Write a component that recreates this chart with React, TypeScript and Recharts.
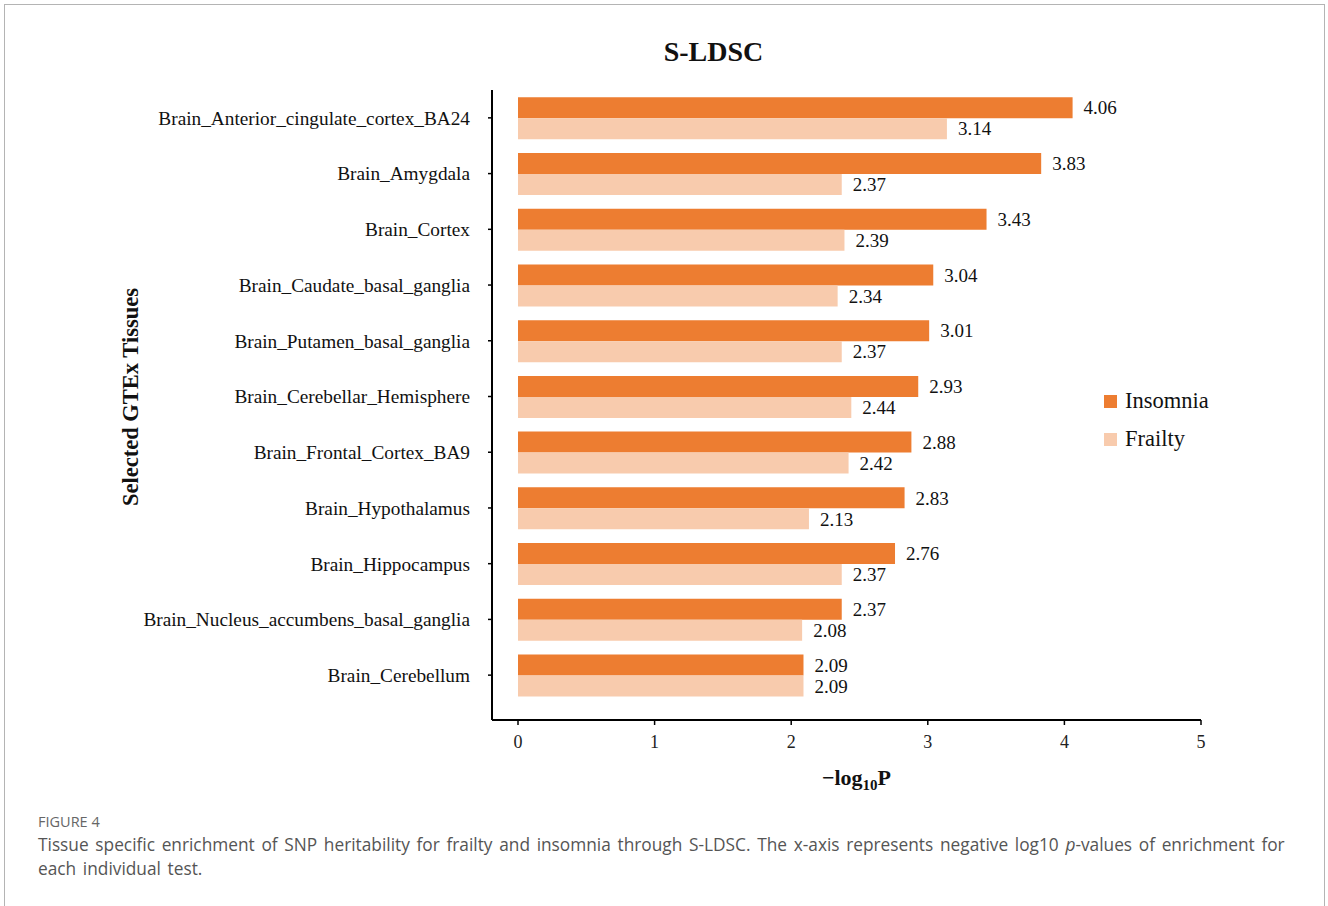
import React from 'react';
import { BarChart, Bar, XAxis, YAxis, LabelList, Label } from 'recharts';

// S-LDSC enrichment per GTEx brain tissue (-log10 P)
const tissues = [
  'Brain_Anterior_cingulate_cortex_BA24',
  'Brain_Amygdala',
  'Brain_Cortex',
  'Brain_Caudate_basal_ganglia',
  'Brain_Putamen_basal_ganglia',
  'Brain_Cerebellar_Hemisphere',
  'Brain_Frontal_Cortex_BA9',
  'Brain_Hypothalamus',
  'Brain_Hippocampus',
  'Brain_Nucleus_accumbens_basal_ganglia',
  'Brain_Cerebellum',
];
const insomnia = [4.06, 3.83, 3.43, 3.04, 3.01, 2.93, 2.88, 2.83, 2.76, 2.37, 2.09];
const frailty = [3.14, 2.37, 2.39, 2.34, 2.37, 2.44, 2.42, 2.13, 2.37, 2.08, 2.09];
const xTicks = [0, 1, 2, 3, 4, 5];

const series = [
  { key: 'insomnia', name: 'Insomnia', color: '#ED7D31' },
  { key: 'frailty', name: 'Frailty', color: '#F8CBAD' },
];

const data = tissues.map((tissue, i) => ({
  tissue,
  insomnia: insomnia[i],
  frailty: frailty[i],
}));

const SERIF = '"Liberation Serif", "Times New Roman", serif';
const SANS = '"Open Sans", Lato, sans-serif';

const YTitle = (props: any) => {
  const vb = props.viewBox || {};
  const cx = vb.x + 130;
  const cy = vb.y + vb.height / 2 - 8;
  return (
    <text
      x={cx}
      y={cy}
      transform={`rotate(-90, ${cx}, ${cy})`}
      textAnchor="middle"
      dominantBaseline="central"
      fontFamily={SERIF}
      fontWeight="bold"
      fontSize={22.5}
      fill="#111"
    >
      Selected GTEx Tissues
    </text>
  );
};

const XTitle = (props: any) => {
  const vb = props.viewBox || {};
  const cx = vb.x + vb.width / 2 + 10;
  return (
    <text
      x={cx}
      y={785}
      textAnchor="middle"
      fontFamily={SERIF}
      fontWeight="bold"
      fontSize={22}
      fill="#111"
    >
      <tspan>−log</tspan>
      <tspan fontSize={15} dy={5}>10</tspan>
      <tspan dy={-5}>P</tspan>
    </text>
  );
};

export default function App() {
  return (
    <div
      style={{
        position: 'absolute',
        left: 0,
        top: 0,
        width: 1328,
        height: 906,
        background: '#fff',
        overflow: 'hidden',
      }}
    >
      {/* figure frame, open at the bottom */}
      <div
        style={{
          position: 'absolute',
          left: 4,
          top: 4,
          width: 1321,
          height: 940,
          border: '1.5px solid #b4b4b4',
          boxSizing: 'border-box',
        }}
      />

      <div
        style={{
          position: 'absolute',
          left: 0,
          top: 36,
          width: 1427,
          textAlign: 'center',
          fontFamily: SERIF,
          fontWeight: 'bold',
          fontSize: 28,
          lineHeight: '32px',
          color: '#111',
        }}
      >
        S-LDSC
      </div>

      <div style={{ position: 'absolute', left: 0, top: 0 }}>
        <BarChart
          width={1328}
          height={800}
          data={data}
          layout="vertical"
          margin={{ top: 90, right: 127, bottom: 40, left: 0 }}
          barCategoryGap="13%"
          barGap={0}
        >
          <XAxis
            type="number"
            domain={[0, 5]}
            ticks={xTicks}
            padding={{ left: 26, right: 0 }}
            height={40}
            axisLine={{ stroke: '#000', strokeWidth: 2 }}
            tickLine={{ stroke: '#000', strokeWidth: 1.5 }}
            tickSize={5}
            tickMargin={10}
            tick={{ fontFamily: SERIF, fontSize: 18, fill: '#222' }}
          >
            <Label content={<XTitle />} />
          </XAxis>
          <YAxis
            type="category"
            dataKey="tissue"
            width={492}
            padding={{ top: 0, bottom: 17 }}
            axisLine={{ stroke: '#000', strokeWidth: 2 }}
            tickLine={{ stroke: '#000', strokeWidth: 1.5 }}
            tickSize={4}
            tickMargin={18}
            interval={0}
            tick={{ fontFamily: SERIF, fontSize: 19.3, fill: '#111' }}
          >
            <Label content={<YTitle />} />
          </YAxis>
          {series.map((s) => (
            <Bar
              key={s.key}
              dataKey={s.key}
              name={s.name}
              fill={s.color}
              isAnimationActive={false}
            >
              <LabelList
                dataKey={s.key}
                position="right"
                offset={11}
                formatter={(v: any) => Number(v).toFixed(2)}
                style={{ fontFamily: SERIF, fontSize: 19, fill: '#111' }}
              />
            </Bar>
          ))}
        </BarChart>
      </div>

      {/* legend */}
      <div style={{ position: 'absolute', left: 1104, top: 382 }}>
        {series.map((s) => (
          <div
            key={s.key}
            style={{
              display: 'flex',
              alignItems: 'center',
              height: 38,
              fontFamily: SERIF,
              fontSize: 22.5,
              color: '#111',
            }}
          >
            <span
              style={{
                display: 'inline-block',
                width: 13,
                height: 13,
                background: s.color,
                marginRight: 8,
              }}
            />
            {s.name}
          </div>
        ))}
      </div>

      {/* caption */}
      <div
        style={{
          position: 'absolute',
          left: 38,
          top: 812,
          fontFamily: SANS,
          fontSize: 14.5,
          color: '#666',
          lineHeight: '20px',
        }}
      >
        FIGURE 4
      </div>
      <div
        style={{
          position: 'absolute',
          left: 38,
          top: 833,
          width: 1280,
          fontFamily: SANS,
          fontSize: 17.3,
          wordSpacing: 2.2,
          color: '#555',
          lineHeight: '24px',
          whiteSpace: 'nowrap',
        }}
      >
        Tissue specific enrichment of SNP heritability for frailty and insomnia through S-LDSC. The
        x-axis represents negative log10 <i>p</i>-values of enrichment for
        <br />
        each individual test.
      </div>
    </div>
  );
}
